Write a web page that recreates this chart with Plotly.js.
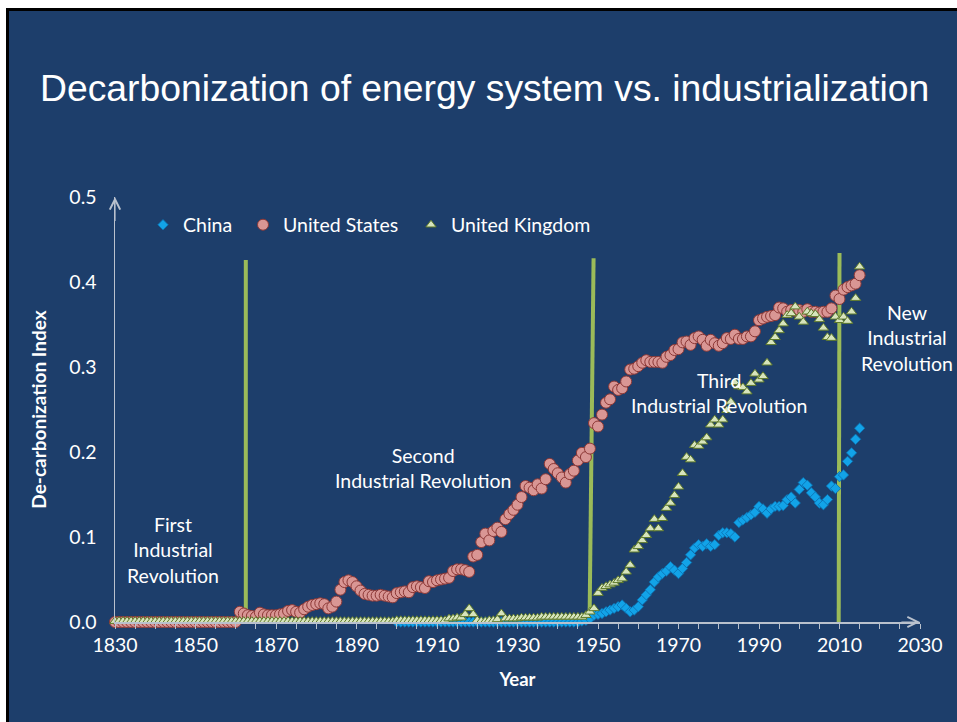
<!DOCTYPE html>
<html><head><meta charset="utf-8">
<script src="https://cdn.plot.ly/plotly-3.0.1.min.js"></script>
<style>
html,body{margin:0;padding:0;background:#fff;width:957px;height:722px;overflow:hidden}
#frame{position:absolute;left:6px;top:8px;width:951px;height:714px;border-left:3px solid #000;border-top:3px solid #000;box-sizing:border-box;background:#1d3e6b}
#chart{width:948px;height:711px}
</style></head><body><div id="frame"><div id="chart"></div></div>
<script>
// ---- data ----
const usStart = 1830;
const usValues = [
 0,0,0,0,0,0,0,0,0,0, 0,0,0,0,0,0,0,0,0,0, 0,0,0,0,0,0,0,0,0,0, 0,
 0.012,0.010,0.008,0.007,0.006,0.011,0.009,0.008,0.008,0.008,0.009,0.010,0.013,0.014,0.012,0.011,0.015,0.018,0.020,0.021,0.022,0.021,0.016,0.018,0.024,
 0.038,0.047,0.049,0.047,0.042,0.037,0.033,0.032,0.031,0.031,0.032,0.031,0.030,0.029,0.034,0.035,0.036,0.035,0.041,0.042,0.041,0.040,0.048,0.047,0.049,0.050,0.051,0.052,0.060,0.062,0.062,0.061,0.059,
 0.077,0.079,0.094,0.104,0.096,0.107,0.111,0.106,0.121,0.127,0.132,0.138,0.147,0.160,0.158,0.155,0.162,0.157,0.168,0.186,0.180,0.175,0.170,0.164,0.174,0.178,0.190,0.199,0.194,0.204,
 0.234,0.230,0.244,0.258,0.262,0.277,0.273,0.275,0.283,0.297,
 0.298,0.301,0.305,0.308,0.306,0.306,0.306,0.305,0.312,0.314,
 0.320,0.321,0.329,0.330,0.326,0.334,0.336,0.332,0.325,0.332,
 0.328,0.325,0.328,0.334,0.333,0.338,0.333,0.333,0.336,0.336,
 0.342,0.355,0.357,0.359,0.360,0.361,0.370,0.369,0.365,0.367,
 0.366,0.367,0.365,0.368,0.365,0.365,0.364,0.365,0.365,0.369,
 0.384,0.380,0.391,0.394,0.396,0.398,0.408
];
const ukStart = 1830;
const ukValues = [
 0.001,0.001,0.001,0.001,0.001,0.001,0.001,0.001,0.001,0.001,
 0.001,0.001,0.001,0.001,0.001,0.001,0.001,0.001,0.001,0.001,
 0.001,0.001,0.001,0.001,0.001,0.001,0.001,0.001,0.001,0.001,
 0.001,0.001,0.001,0.001,0.001,0.001,0.001,0.001,0.001,0.001,
 0.001,0.001,0.001,0.001,0.001,0.001,0.001,0.001,0.001,0.001,
 0.001,0.001,0.001,0.001,0.001,0.001,0.001,0.001,0.001,0.001,
 0.001,0.001,0.001,0.001,0.001,0.001,0.001,0.001,0.001,0.001,
 0.002,0.002,0.002,0.002,0.002,0.002,0.002,0.002,0.002,0.002,0.002,0.002,0.002,
 0.004,0.004,0.005,0.005,
 0.009,0.016,0.009,
 0.002,0.001,0.001,0.002,0.002,0.003,
 0.010,
 0.004,0.004,0.004,0.004,0.005,0.005,0.005,0.005,0.005,
 0.006,0.006,0.006,0.006,0.006,0.006,0.006,0.006,0.006,0.006,0.006,
 0.008,0.012,0.016,0.034,
 0.040,0.042,0.044,0.046,0.049,0.051,0.059,0.067,0.085,0.089,
 0.096,0.102,0.110,0.121,0.110,0.122,0.134,0.140,0.149,0.159,
 0.175,0.194,0.191,0.208,0.207,0.212,0.217,0.232,0.238,0.232,
 0.238,0.249,0.259,0.282,0.277,0.276,0.271,0.281,0.292,0.285,
 0.289,0.305,0.329,0.335,0.343,0.351,0.361,0.363,0.371,0.359,
 0.353,0.365,0.363,0.362,0.356,0.346,0.335,0.334,0.359,0.355,
 0.359,0.354,0.365,0.381,0.418
];
const cnStart = 1900;
const cnValues = [
 0,0,0,0,0,0,0,0,0,0, 0,0,0,0,0,0,0,0,0,0, 0,0,0,0,0,0,0,0,0,0,
 0,0,0,0,0,0,0,0,0,0, 0,0,0,0,0,0,
 0.001,0.002,0.004,0.008,0.009,
 0.010,0.012,0.014,0.016,0.018,0.020,0.016,0.012,0.014,0.018,
 0.026,0.032,0.038,0.047,0.053,0.057,0.060,0.065,0.061,0.057,
 0.063,0.070,0.079,0.087,0.091,0.089,0.092,0.089,0.091,0.102,
 0.105,0.105,0.104,0.100,0.117,0.120,0.123,0.126,0.129,0.136,
 0.133,0.128,0.133,0.136,0.136,0.137,0.144,0.147,0.140,0.156,
 0.164,0.161,0.152,0.147,0.140,0.138,0.144,0.160,0.157,0.171,
 0.173,0.189,0.199,0.215,0.228
];
const seriesNames = ["China", "United States", "United Kingdom"];
// era divider lines (bottom x, top x, top value)
const eraBottomX = [1862.5, 1947.9, 2009.8];
const eraTopX = [1862.5, 1948.9, 2010.0];
const eraTopY = [0.426, 0.428, 0.434];
// era labels
const eraLabels = ["First<br>Industrial<br>Revolution", "Second<br>Industrial Revolution", "Third<br>Industrial Revolution", "New<br>Industrial<br>Revolution"];
const eraLabelX = [1844.4, 1906.6, 1980.1, 2026.8];
const eraLabelY = [0.0847, 0.181, 0.269, 0.334];
const xTicks = [1830, 1850, 1870, 1890, 1910, 1930, 1950, 1970, 1990, 2010, 2030];
const yTicks = [0, 0.1, 0.2, 0.3, 0.4, 0.5];

function yearsFrom(start, vals){ return vals.map((_, i) => start + i); }

const FONT = "Lato, 'Open Sans', sans-serif";
const AXIS = "#b9c1cd";

const traces = [
 {type:"scatter", mode:"markers", name:seriesNames[0], x:yearsFrom(cnStart, cnValues), y:cnValues, cliponaxis:false,
  marker:{symbol:"diamond", size:8, color:"#12a3e8", line:{color:"#0b6fae", width:0.8}}, legend:"legend"},
 {type:"scatter", mode:"markers", name:seriesNames[1], x:yearsFrom(usStart, usValues), y:usValues, cliponaxis:false,
  marker:{symbol:"circle", size:11, color:"#d99694", line:{color:"#8c3836", width:1}}, legend:"legend2"},
 {type:"scatter", mode:"markers", name:seriesNames[2], x:yearsFrom(ukStart, ukValues), y:ukValues, cliponaxis:false,
  marker:{symbol:"triangle-up", size:9, color:"#d7e4bd", line:{color:"#5f7a2a", width:1}}, legend:"legend3"}
];

const shapes = eraBottomX.map((bx, i) => ({
 type:"line", xref:"x", yref:"y", x0:bx, y0:0, x1:eraTopX[i], y1:eraTopY[i],
 line:{color:"#9bbb59", width:4}, layer:"below"
}));

const annotations = eraLabels.map((t, i) => ({
 text:t, x:eraLabelX[i], y:eraLabelY[i], xref:"x", yref:"y", showarrow:false,
 xanchor:"center", yanchor:"middle", align:"center",
 font:{family:FONT, size:19.5, color:"#ffffff"}
}));
// axis arrows
annotations.push({x:1830, y:0.5, ax:1830, ay:0.47, xref:"x", yref:"y", axref:"x", ayref:"y",
 text:"", showarrow:true, arrowhead:5, arrowsize:1.7, arrowwidth:1.2, arrowcolor:AXIS});
annotations.push({x:2030, y:0, ax:2025, ay:0, xref:"x", yref:"y", axref:"x", ayref:"y",
 text:"", showarrow:true, arrowhead:5, arrowsize:1.7, arrowwidth:1.2, arrowcolor:AXIS});

const legendBase = {orientation:"h", yanchor:"middle", y:0.934, xanchor:"left",
 bgcolor:"rgba(0,0,0,0)", font:{family:FONT, size:19.5, color:"#ffffff"}};

const layout = {
 width:948, height:711,
 paper_bgcolor:"#1d3e6b", plot_bgcolor:"rgba(0,0,0,0)",
 margin:{l:106, r:37, t:186, b:100},
 title:{text:"Decarbonization of energy system vs. industrialization",
  xref:"container", yref:"container", x:31/948, xanchor:"left", y:1-77/711, yanchor:"middle",
  font:{family:"'Liberation Sans', Arial, sans-serif", size:37.3, color:"#ffffff"}},
 xaxis:{range:[1830, 2030], tickvals:xTicks, ticktext:xTicks.map(String),
  showgrid:false, zeroline:false, showline:true, linecolor:AXIS, linewidth:1.5,
  ticks:"outside", ticklen:5, tickcolor:AXIS, tickwidth:1,
  minor:{dtick:5, tick0:1830, ticks:"outside", ticklen:5, tickcolor:AXIS, tickwidth:1, showgrid:false},
  tickfont:{family:FONT, size:19.5, color:"#ffffff"},
  title:{text:"<b>Year</b>", standoff:18, font:{family:FONT, size:18.5, color:"#ffffff"}}},
 yaxis:{range:[0, 0.5], tickvals:yTicks, ticktext:yTicks.map(v => v.toFixed(1)),
  showgrid:false, zeroline:false, showline:true, linecolor:AXIS, linewidth:1.5,
  ticks:"outside", ticklen:13, tickcolor:"rgba(0,0,0,0)",
  tickfont:{family:FONT, size:19.5, color:"#ffffff"},
  title:{text:"<b>De-carbonization Index</b>", standoff:17, font:{family:FONT, size:19, color:"#ffffff"}}},
 showlegend:true,
 legend:Object.assign({}, legendBase, {x:28/805}),
 legend2:Object.assign({}, legendBase, {x:128/805}),
 legend3:Object.assign({}, legendBase, {x:296/805}),
 shapes:shapes,
 annotations:annotations
};

Plotly.newPlot("chart", traces, layout, {displayModeBar:false, staticPlot:true});
</script></body></html>
